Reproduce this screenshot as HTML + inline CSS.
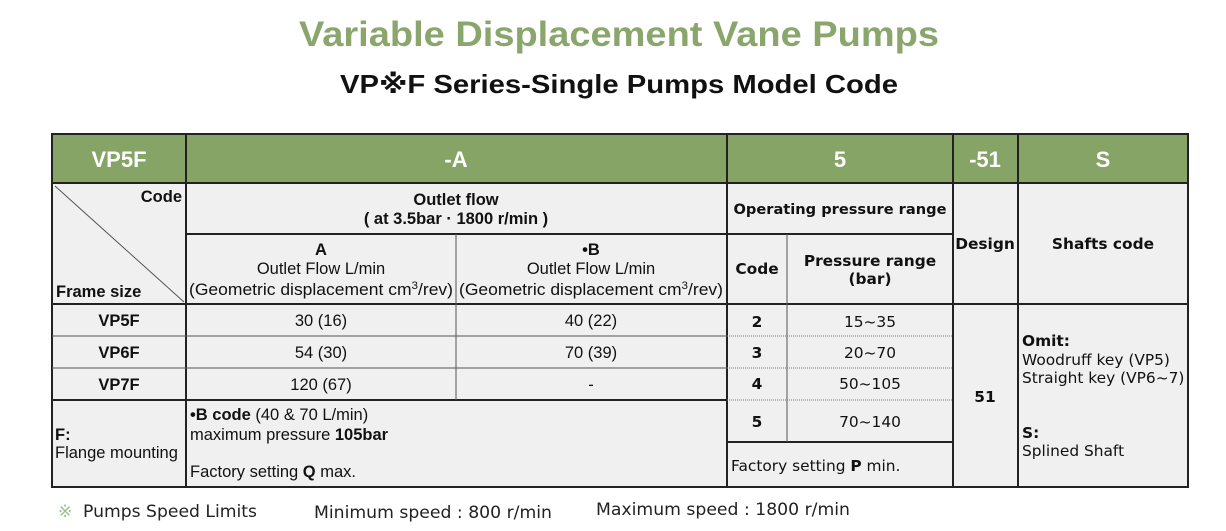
<!DOCTYPE html>
<html><head><meta charset="utf-8"><style>
html,body{margin:0;padding:0;background:#fff;width:1226px;height:531px;overflow:hidden}
svg{display:block}
text{font-family:"Liberation Sans Narrow","Liberation Sans","DejaVu Sans",sans-serif}
.d{font-family:"DejaVu Sans","Liberation Sans",sans-serif}
</style></head><body>
<svg width="1226" height="531" viewBox="0 0 1226 531" xmlns="http://www.w3.org/2000/svg">
<text x="619" y="46" text-anchor="middle" font-size="35" font-weight="bold" fill="#8aa66d" textLength="640" lengthAdjust="spacingAndGlyphs">Variable Displacement Vane Pumps</text>
<text x="619" y="93" text-anchor="middle" font-size="26" font-weight="bold" fill="#111" textLength="558" lengthAdjust="spacingAndGlyphs">VP※F Series-Single Pumps Model Code</text>
<rect x="52" y="134" width="1136" height="353" fill="#f0f0f0"/>
<rect x="52" y="134" width="1136" height="49" fill="#86a466"/>
<g font-size="22" font-weight="bold" fill="#fff" text-anchor="middle">
<text x="119" y="167">VP5F</text>
<text x="456" y="167">-A</text>
<text x="840" y="167">5</text>
<text x="985" y="167">-51</text>
<text x="1103" y="167">S</text>
</g>
<g stroke="#222" stroke-width="2" fill="none">
<rect x="52" y="134" width="1136" height="353"/>
<line x1="52" y1="183" x2="1188" y2="183"/>
<line x1="186" y1="134" x2="186" y2="487"/>
<line x1="727" y1="134" x2="727" y2="487"/>
<line x1="953" y1="134" x2="953" y2="487"/>
<line x1="1018" y1="134" x2="1018" y2="487"/>
<line x1="186" y1="234" x2="953" y2="234"/>
<line x1="52" y1="304" x2="1188" y2="304"/>
<line x1="52" y1="400" x2="727" y2="400"/>
<line x1="727" y1="442" x2="953" y2="442"/>
</g>
<g stroke="#555" stroke-width="1" fill="none">
<line x1="456" y1="234" x2="456" y2="400"/>
<line x1="787" y1="234" x2="787" y2="442"/>
<line x1="52" y1="336" x2="727" y2="336"/>
<line x1="52" y1="368" x2="727" y2="368"/>
<line x1="55" y1="186" x2="184" y2="302"/>
</g>
<g stroke="#777" stroke-width="1" stroke-dasharray="1,1">
<line x1="727" y1="336" x2="953" y2="336"/>
<line x1="727" y1="368" x2="953" y2="368"/>
<line x1="727" y1="400" x2="953" y2="400"/>
</g>
<g font-size="16.5" fill="#111">
<text x="182" y="202" text-anchor="end" font-weight="bold">Code</text>
<text x="56" y="297" font-weight="bold">Frame size</text>
<text x="456" y="205" text-anchor="middle" font-weight="bold">Outlet flow</text>
<text x="456" y="224" text-anchor="middle" font-weight="bold">( at 3.5bar · 1800 r/min )</text>
<text x="321" y="255" text-anchor="middle" font-weight="bold">A</text>
<text x="321" y="274" text-anchor="middle">Outlet Flow L/min</text>
<text x="321" y="295" text-anchor="middle" textLength="264" lengthAdjust="spacingAndGlyphs">(Geometric displacement cm<tspan font-size="11" dy="-6">3</tspan><tspan dy="6">/rev)</tspan></text>
<text x="591" y="255" text-anchor="middle" font-weight="bold">•B</text>
<text x="591" y="274" text-anchor="middle">Outlet Flow L/min</text>
<text x="591" y="295" text-anchor="middle" textLength="264" lengthAdjust="spacingAndGlyphs">(Geometric displacement cm<tspan font-size="11" dy="-6">3</tspan><tspan dy="6">/rev)</tspan></text>
<text x="119" y="326" text-anchor="middle" font-weight="bold">VP5F</text>
<text x="119" y="358" text-anchor="middle" font-weight="bold">VP6F</text>
<text x="119" y="390" text-anchor="middle" font-weight="bold">VP7F</text>
<text x="321" y="326" text-anchor="middle">30 (16)</text>
<text x="321" y="358" text-anchor="middle">54 (30)</text>
<text x="321" y="390" text-anchor="middle">120 (67)</text>
<text x="591" y="326" text-anchor="middle">40 (22)</text>
<text x="591" y="358" text-anchor="middle">70 (39)</text>
<text x="591" y="390" text-anchor="middle">-</text>
<text x="55" y="440" font-weight="bold">F:</text>
<text x="55" y="458">Flange mounting</text>
<text x="190" y="420"><tspan font-weight="bold">•B code</tspan> (40 &amp; 70 L/min)</text>
<text x="190" y="440">maximum pressure <tspan font-weight="bold">105bar</tspan></text>
<text x="190" y="477">Factory setting <tspan font-weight="bold">Q</tspan> max.</text>
</g>
<g font-size="15.4" fill="#111">
<text class="d" x="840" y="214" text-anchor="middle" font-weight="bold" font-size="14.6">Operating pressure range</text>
<text class="d" x="757" y="274" text-anchor="middle" font-weight="bold">Code</text>
<text class="d" x="870" y="266" text-anchor="middle" font-weight="bold">Pressure range</text>
<text class="d" x="870" y="284" text-anchor="middle" font-weight="bold">(bar)</text>
<text class="d" x="985" y="249" text-anchor="middle" font-weight="bold">Design</text>
<text class="d" x="1103" y="249" text-anchor="middle" font-weight="bold">Shafts code</text>
<text class="d" x="757" y="327" text-anchor="middle" font-weight="bold">2</text>
<text class="d" x="757" y="358" text-anchor="middle" font-weight="bold">3</text>
<text class="d" x="757" y="389" text-anchor="middle" font-weight="bold">4</text>
<text class="d" x="757" y="427" text-anchor="middle" font-weight="bold">5</text>
<text class="d" x="870" y="327" text-anchor="middle">15~35</text>
<text class="d" x="870" y="358" text-anchor="middle">20~70</text>
<text class="d" x="870" y="389" text-anchor="middle">50~105</text>
<text class="d" x="870" y="427" text-anchor="middle">70~140</text>
<text class="d" x="731" y="471">Factory setting <tspan font-weight="bold">P</tspan> min.</text>
<text class="d" x="985" y="402" text-anchor="middle" font-weight="bold">51</text>
<text class="d" x="1022" y="346" font-weight="bold">Omit:</text>
<text class="d" x="1022" y="365">Woodruff key (VP5)</text>
<text class="d" x="1022" y="383">Straight key (VP6~7)</text>
<text class="d" x="1022" y="438" font-weight="bold">S:</text>
<text class="d" x="1022" y="456">Splined Shaft</text>
</g>
<g font-size="17" fill="#222">
<text class="d" x="58" y="517" fill="#9bc08a">※</text>
<text class="d" x="83" y="517" textLength="174" lengthAdjust="spacingAndGlyphs">Pumps Speed Limits</text>
<text class="d" x="314" y="518" textLength="238" lengthAdjust="spacingAndGlyphs">Minimum speed : 800 r/min</text>
<text class="d" x="596" y="515" textLength="254" lengthAdjust="spacingAndGlyphs">Maximum speed : 1800 r/min</text>
</g>
</svg>
</body></html>
